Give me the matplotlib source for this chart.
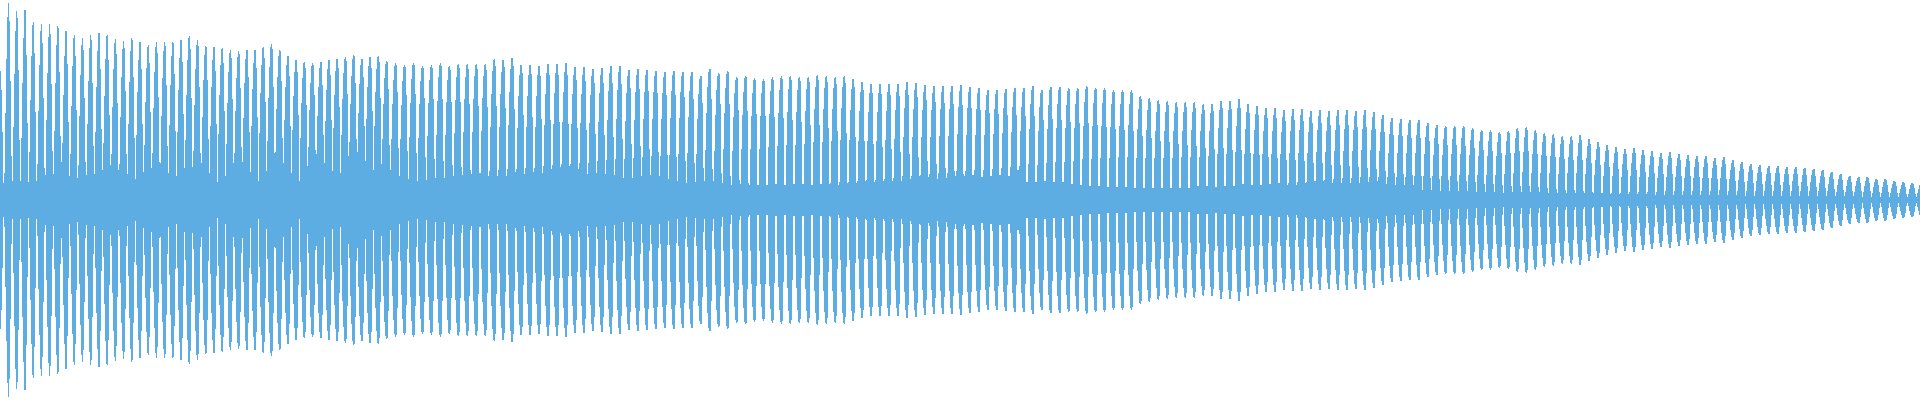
import numpy as np
import matplotlib
matplotlib.use("Agg")
import matplotlib.pyplot as plt

# ---- data (amplitude, full scale = 1) ----
# pulse timing (in display columns): two stretches with different period
seg_start = [0.3, 386.7]
seg_period = [8.22, 8.975]
seg_count = [47, 172]

# peak amplitude of each pulse
peaks = [
    0.642, 0.983, 0.945, 0.95, 0.887, 0.88, 0.88, 0.87, 0.845, 0.825, 0.81, 0.825,
    0.835, 0.825, 0.805, 0.795, 0.81, 0.79, 0.775, 0.787, 0.787, 0.787, 0.80, 0.82,
    0.80, 0.77, 0.765, 0.76, 0.75, 0.745, 0.75, 0.75, 0.765, 0.78, 0.75, 0.72, 0.70,
    0.69, 0.685, 0.69, 0.70, 0.705, 0.715, 0.725, 0.705, 0.715, 0.72,
    0.695, 0.685, 0.675, 0.685, 0.67, 0.675, 0.685, 0.67, 0.68, 0.68, 0.68, 0.68,
    0.705, 0.70, 0.71, 0.675, 0.675, 0.67, 0.68, 0.68, 0.685, 0.665, 0.665, 0.655,
    0.66, 0.67, 0.67, 0.65, 0.655, 0.65, 0.645, 0.64, 0.645, 0.64, 0.64, 0.62, 0.655,
    0.635, 0.645, 0.615, 0.62, 0.61, 0.605,
    0.615, 0.62, 0.62, 0.615, 0.615, 0.625, 0.62, 0.615, 0.62, 0.605, 0.59, 0.58,
    0.58, 0.58, 0.58, 0.59, 0.585, 0.575, 0.57, 0.57, 0.57, 0.575, 0.565, 0.56, 0.55,
    0.55, 0.555, 0.56, 0.56, 0.57, 0.55, 0.565, 0.565, 0.56, 0.56, 0.57, 0.56, 0.56,
    0.55, 0.55, 0.55, 0.52, 0.51,
    0.50, 0.495, 0.49, 0.49, 0.49, 0.48, 0.48, 0.495, 0.495, 0.505, 0.48, 0.47, 0.46,
    0.46, 0.45, 0.455, 0.455, 0.445, 0.45, 0.445, 0.45, 0.45, 0.445, 0.45, 0.44,
    0.425, 0.41, 0.405, 0.40, 0.40, 0.385, 0.375, 0.37, 0.37, 0.37, 0.36, 0.35, 0.35,
    0.34, 0.345, 0.36, 0.365, 0.35,
    0.335, 0.33, 0.32, 0.32, 0.325, 0.305, 0.29, 0.275, 0.265, 0.255, 0.26, 0.25,
    0.245, 0.235, 0.24, 0.23, 0.225, 0.22, 0.22, 0.21, 0.215, 0.20, 0.19, 0.18, 0.175,
    0.17, 0.17, 0.165, 0.165, 0.16, 0.155, 0.15, 0.14, 0.13, 0.12, 0.115, 0.115,
    0.105, 0.105, 0.095, 0.09, 0.085, 0.085,
]

# level of the dense centre band in the gap after each pulse
troughs = [
    0.075, 0.092, 0.092, 0.087, 0.095, 0.10, 0.13, 0.187, 0.117, 0.095, 0.10, 0.13,
    0.15, 0.172, 0.12, 0.10, 0.105, 0.137, 0.157, 0.11, 0.10, 0.117, 0.157, 0.162,
    0.125, 0.10, 0.09, 0.117, 0.162, 0.105, 0.105, 0.095, 0.117, 0.152, 0.147, 0.11,
    0.095, 0.112, 0.172, 0.127, 0.095, 0.112, 0.172, 0.095, 0.10, 0.10, 0.15,
    0.15, 0.117, 0.105, 0.09, 0.09, 0.09, 0.09, 0.095, 0.10, 0.105, 0.10, 0.105,
    0.117, 0.117, 0.137, 0.13, 0.14, 0.135, 0.155, 0.162, 0.17, 0.155, 0.13, 0.135,
    0.13, 0.125, 0.11, 0.11, 0.117, 0.122, 0.117, 0.105, 0.095, 0.085, 0.09, 0.095,
    0.095, 0.085, 0.075, 0.08, 0.075, 0.075, 0.075,
    0.08, 0.075, 0.08, 0.08, 0.075, 0.08, 0.08, 0.075, 0.085, 0.085, 0.095, 0.09,
    0.095, 0.095, 0.095, 0.105, 0.12, 0.115, 0.105, 0.11, 0.12, 0.12, 0.125, 0.115,
    0.12, 0.125, 0.12, 0.15, 0.09, 0.09, 0.095, 0.09, 0.09, 0.08, 0.075, 0.07, 0.07,
    0.065, 0.065, 0.065, 0.06, 0.06, 0.06,
    0.06, 0.06, 0.06, 0.06, 0.07, 0.07, 0.065, 0.07, 0.07, 0.08, 0.075, 0.075, 0.08,
    0.085, 0.075, 0.075, 0.085, 0.095, 0.095, 0.085, 0.085, 0.085, 0.085, 0.09,
    0.095, 0.08, 0.075, 0.075, 0.075, 0.05, 0.05, 0.045, 0.045, 0.045, 0.045, 0.04,
    0.04, 0.04, 0.035, 0.04, 0.04, 0.04, 0.04,
    0.035, 0.033, 0.033, 0.032, 0.03, 0.03, 0.03, 0.028, 0.028, 0.027, 0.027, 0.026,
    0.025, 0.025, 0.024, 0.024, 0.023, 0.023, 0.022, 0.022, 0.021, 0.021, 0.02,
    0.02, 0.02, 0.019, 0.019, 0.018, 0.018, 0.018, 0.017, 0.017, 0.016, 0.016,
    0.016, 0.015, 0.015, 0.015, 0.014, 0.014, 0.014, 0.013, 0.013,
]

# pulse shape (drawing style): sharpness and rise / fall widths along the file
shape_x = [0, 380, 1000, 1920]
shape_q = [1.3, 1.9, 2.0, 1.5]
shape_wr = [3.9, 5.0, 4.7, 4.6]
shape_wf = [3.0, 3.0, 2.1, 3.3]

COLOR = "#5dade2"
N_COLS = 1920

# ---- build per-column peak envelope (min/max display) ----
pulse_x = np.concatenate([s + p * np.arange(n) for s, p, n in zip(seg_start, seg_period, seg_count)])
peaks_a = np.array(peaks)
troughs_a = np.array(troughs)

cols = np.arange(N_COLS, dtype=float)
h = np.zeros(N_COLS)
for px, amp in zip(pulse_x, peaks_a):
    q = np.interp(px, shape_x, shape_q)
    wr = np.interp(px, shape_x, shape_wr)
    wf = np.interp(px, shape_x, shape_wf)
    lo = cols - px
    hi = cols + 1 - px
    d = np.clip(0.0, lo, hi)
    w = np.where(d < 0, wr, wf)
    f = np.clip(1 - (np.abs(d) / w) ** q, 0, None)
    h = np.maximum(h, amp * f)

idx = np.clip(np.searchsorted(pulse_x, cols + 0.5) - 1, 0, len(troughs_a) - 1)
h = np.maximum(h, troughs_a[idx])

fig = plt.figure(figsize=(19.2, 4.0), dpi=100)
ax = fig.add_axes([0, 0, 1, 1])
edges = np.arange(N_COLS + 1)
hh = np.append(h, h[-1])
ax.fill_between(edges, -hh, hh, step="post", color=COLOR, linewidth=0, antialiased=False)
ax.set_xlim(0, N_COLS)
ax.set_ylim(-1, 1)
ax.axis("off")
fig.savefig("out.png", dpi=100, facecolor="white")
